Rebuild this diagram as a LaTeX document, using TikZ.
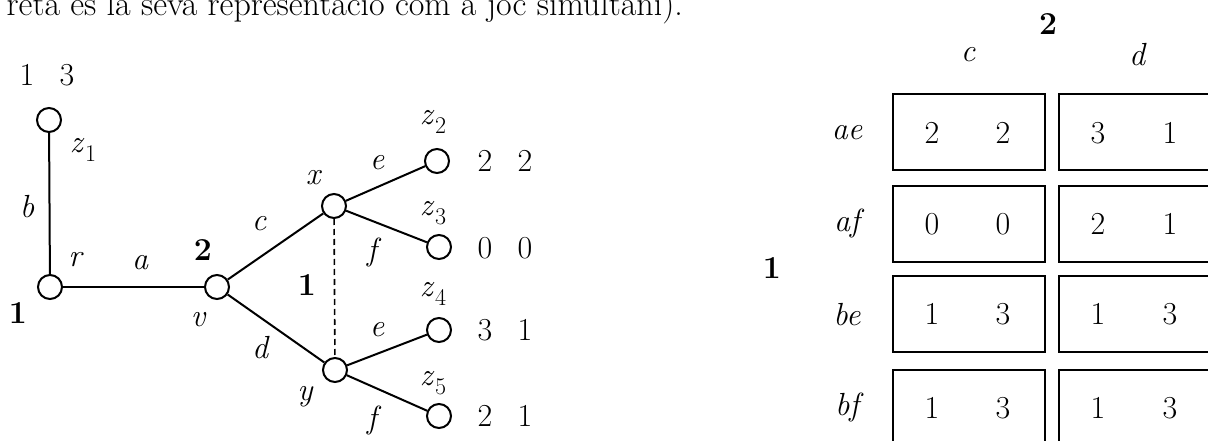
\documentclass[tikz,border=0pt]{standalone}
\usepackage{fontspec}
\newcommand\zsub[1]{\textit{z}\kern0.5pt\raisebox{-0.28em}{\fontsize{24}{27}\selectfont #1}}
\begin{document}
\begin{tikzpicture}[x=1pt,y=-1pt,
  font=\fontsize{32}{37}\selectfont,
  st/.style={circle,draw,line width=2pt,minimum size=24pt,inner sep=0pt},
  edge/.style={line width=2pt},
  lab/.style={inner sep=0pt},
  il/.style={inner sep=0pt,font=\fontsize{32}{37}\selectfont\itshape},
  cell/.style={draw,line width=2pt,minimum width=152pt,minimum height=76pt,inner sep=0pt}]
\useasboundingbox (0,0) rectangle (1208,441);
\clip (0,0) rectangle (1208,441);
% caption fragment
\node[lab,anchor=base east] (cap) at (683,16) {\fontsize{34}{40}\selectfont reta és la seva representació com a joc simultani).};
% tree nodes
\node[st] (z1) at (49,120) {};
\node[st] (r) at (50,287) {};
\node[st] (v) at (217,287) {};
\node[st] (x) at (334,206) {};
\node[st] (y) at (335,370) {};
\node[st] (z2) at (437,161) {};
\node[st] (z3) at (439,247) {};
\node[st] (z4) at (439,330) {};
\node[st] (z5) at (439,416) {};
\draw[edge] (r) -- (z1);
\draw[edge] (r) -- (v);
\draw[edge] (v) -- (x);
\draw[edge] (v) -- (y);
\draw[edge] (x) -- (z2);
\draw[edge] (x) -- (z3);
\draw[edge] (y) -- (z4);
\draw[edge] (y) -- (z5);
\draw[line width=1.6pt,dash pattern=on 6pt off 4pt] (x) -- (y);
% tree labels
\node[lab] (p1a) at (27,75) {1};
\node[lab] (p1b) at (67,75) {3};
\node[lab] (lz1) at (83,150) {\zsub{1}};
\node[il] (lb) at (27,207) {b};
\node[il] (lr) at (75,260) {r};
\node[il] (la) at (140,263) {a};
\node[lab] (pl2) at (203,250) {\bfseries 2};
\node[lab] (pl1) at (18,313) {\bfseries 1};
\node[il] (lv) at (198,320) {v};
\node[il] (lc) at (259,224) {c};
\node[il] (ld) at (260,348) {d};
\node[il] (lx) at (313,178) {x};
\node[il] (le1) at (377,163) {e};
\node[il] (lf1) at (372,252) {f};
\node[lab] (pl1b) at (307,285) {\bfseries 1};
\node[il] (ly) at (305,397) {y};
\node[il] (le2) at (377,330) {e};
\node[il] (lf2) at (372,420) {f};
\node[lab] (lz2) at (433,122) {\zsub{2}};
\node[lab] (lz3) at (433,213) {\zsub{3}};
\node[lab] (lz4) at (433,294) {\zsub{4}};
\node[lab] (lz5) at (433,383) {\zsub{5}};
\node[lab] (u2a) at (485,161) {2};
\node[lab] (u2b) at (525,161) {2};
\node[lab] (u3a) at (485,248) {0};
\node[lab] (u3b) at (525,248) {0};
\node[lab] (u4a) at (485,330) {3};
\node[lab] (u4b) at (525,330) {1};
\node[lab] (u5a) at (485,416) {2};
\node[lab] (u5b) at (525,416) {1};
% matrix
\node[lab] (m2) at (1048,24) {\bfseries 2};
\node[il] (mc) at (968,55) {c};
\node[il] (md) at (1137,55) {d};
\node[lab] (m1) at (772,268) {\bfseries 1};
\node[il] (rae) at (847,133) {ae};
\node[il] (raf) at (847,223) {af};
\node[il] (rbe) at (847,315) {be};
\node[il] (rbf) at (847,407) {bf};
\node[cell] (c11) at (969,132) {};
\node[cell] (c12) at (1135,132) {};
\node[cell] (c21) at (969,224) {};
\node[cell] (c22) at (1135,224) {};
\node[cell] (c31) at (969,314) {};
\node[cell] (c32) at (1135,314) {};
\node[cell] (c41) at (969,408) {};
\node[cell] (c42) at (1135,408) {};
\node[lab] at (932,133) {2};
\node[lab] at (1003,133) {2};
\node[lab] at (1098,133) {3};
\node[lab] at (1170,133) {1};
\node[lab] at (932,224) {0};
\node[lab] at (1003,224) {0};
\node[lab] at (1098,224) {2};
\node[lab] at (1170,224) {1};
\node[lab] at (932,314) {1};
\node[lab] at (1003,314) {3};
\node[lab] at (1098,314) {1};
\node[lab] at (1170,314) {3};
\node[lab] at (932,408) {1};
\node[lab] at (1003,408) {3};
\node[lab] at (1098,408) {1};
\node[lab] at (1170,408) {3};
\end{tikzpicture}
\end{document}
